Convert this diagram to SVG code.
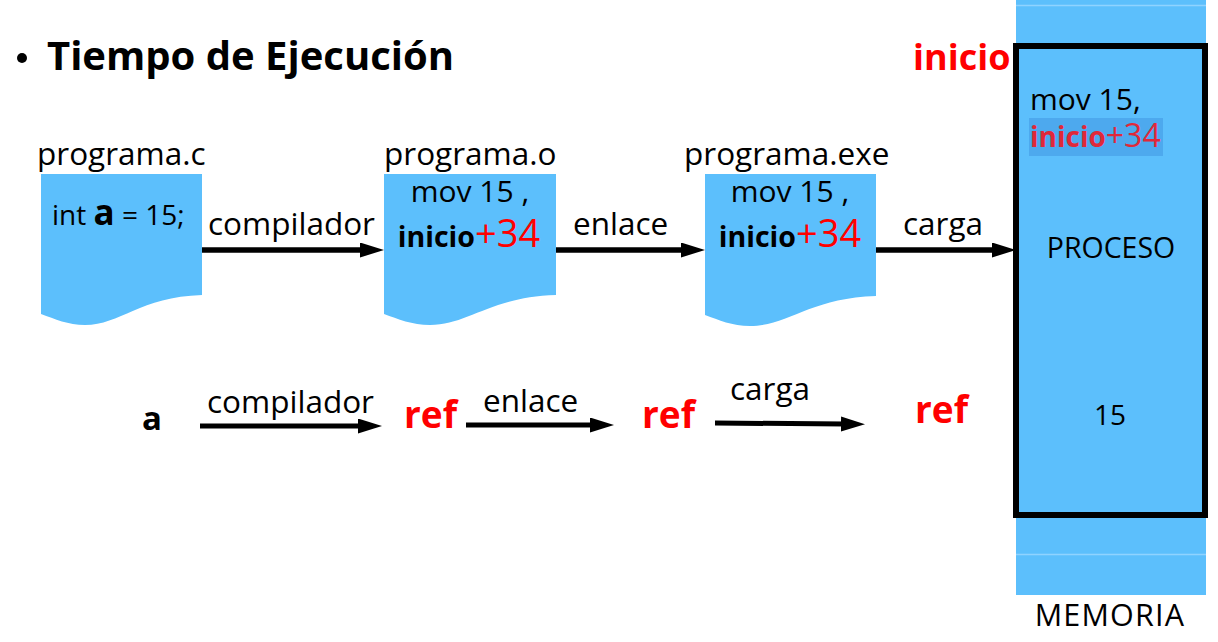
<svg xmlns="http://www.w3.org/2000/svg" width="1218" height="642" viewBox="0 0 1218 642">
<defs>
<style>
text{font-family:"Open Sans","Liberation Sans",sans-serif;fill:#000}
.doc{fill:#5CBFFC}
.lbl{font-size:31.5px}
.b{font-weight:bold}
.red{fill:#FF0000}
.ln{stroke:#000;fill:none}
</style>
<marker id="ah" markerUnits="userSpaceOnUse" markerWidth="26" markerHeight="16" refX="4" refY="7.5" orient="auto">
<path d="M0,0 L24,7.5 L0,15 z" fill="#000"/>
</marker>
</defs>
<rect width="1218" height="642" fill="#fff"/>

<g id="title">
<circle cx="22" cy="58" r="5" fill="#000"/>
<text x="47" y="70" font-size="40" class="b">Tiempo de Ejecución</text>
</g>

<g id="memoria">
<rect x="1016" y="0" width="190" height="595" fill="#5CBFFC"/>
<line x1="1016" y1="5.5" x2="1206" y2="5.5" stroke="#8FD3FF" stroke-width="1.5"/>
<line x1="1016" y1="554.5" x2="1206" y2="554.5" stroke="#8FD3FF" stroke-width="1.5"/>
<text x="1110" y="626" font-size="30.5" text-anchor="middle" letter-spacing="1.2">MEMORIA</text>
</g>

<g id="proceso">
<rect x="1016" y="46" width="189" height="469" fill="none" stroke="#000" stroke-width="6"/>
<text x="1030" y="110" font-size="30">mov 15,</text>
<rect x="1029" y="118" width="134" height="38" fill="#4DA9EE"/>
<text x="1030" y="147" font-size="28" class="b" style="fill:#E0283A">inicio<tspan font-weight="normal" font-size="32">+34</tspan></text>
<text x="1111" y="258" font-size="28.5" text-anchor="middle">PROCESO</text>
<text x="1110" y="425" font-size="28" text-anchor="middle">15</text>
</g>

<g id="inicio">
<text x="913" y="70" font-size="36" class="b red">inicio</text>
</g>

<g id="doc-c">
<text x="37" y="165" class="lbl">programa.c</text>
<path class="doc" d="M41,174 H202 V295 C140,297 120,325 85,325 C68,325 55,319 41,314 Z"/>
<text x="52" y="225" font-size="28">int <tspan class="b" font-size="35">a</tspan><tspan font-size="28"> = 15;</tspan></text>
</g>

<g id="doc-o">
<text x="384" y="165" class="lbl">programa.o</text>
<path class="doc" d="M384,174 H556 V295 C490,297 468,325 430,325 C412,325 398,319 384,314 Z"/>
<text x="470" y="202" font-size="30" text-anchor="middle">mov 15 ,</text>
<text x="469" y="247" font-size="28.5" text-anchor="middle"><tspan class="b">inicio</tspan><tspan class="red" font-size="38">+34</tspan></text>
</g>

<g id="doc-exe">
<text x="684" y="165" class="lbl">programa.exe</text>
<path class="doc" d="M705,174 H876 V296 C810,298 788,326 750,326 C732,326 719,320 705,315 Z"/>
<text x="790" y="202" font-size="30" text-anchor="middle">mov 15 ,</text>
<text x="790" y="247" font-size="28.5" text-anchor="middle"><tspan class="b">inicio</tspan><tspan class="red" font-size="38">+34</tspan></text>
</g>

<g id="row2">
<text x="142" y="430" font-size="33" class="b">a</text>
<text x="404" y="428" font-size="37" class="b red">ref</text>
<text x="642" y="428" font-size="37" class="b red">ref</text>
<text x="915" y="423" font-size="37" class="b red">ref</text>
</g>

<g id="connectors">
<line class="ln" x1="202" y1="250" x2="364" y2="250" stroke-width="5.5" marker-end="url(#ah)"/>
<text x="208" y="235" class="lbl">compilador</text>
<line class="ln" x1="556" y1="250" x2="685" y2="250" stroke-width="5.5" marker-end="url(#ah)"/>
<text x="573" y="235" class="lbl">enlace</text>
<line class="ln" x1="876" y1="250" x2="996" y2="250" stroke-width="5.5" marker-end="url(#ah)"/>
<text x="903" y="235" class="lbl">carga</text>

<line class="ln" x1="200" y1="426" x2="362" y2="426" stroke-width="5" marker-end="url(#ah)"/>
<text x="207" y="413" class="lbl">compilador</text>
<line class="ln" x1="466" y1="425" x2="594" y2="425" stroke-width="5" marker-end="url(#ah)"/>
<text x="483" y="412" class="lbl">enlace</text>
<line class="ln" x1="715" y1="423" x2="845" y2="424" stroke-width="5" marker-end="url(#ah)"/>
<text x="730" y="400" class="lbl">carga</text>
</g>
</svg>
